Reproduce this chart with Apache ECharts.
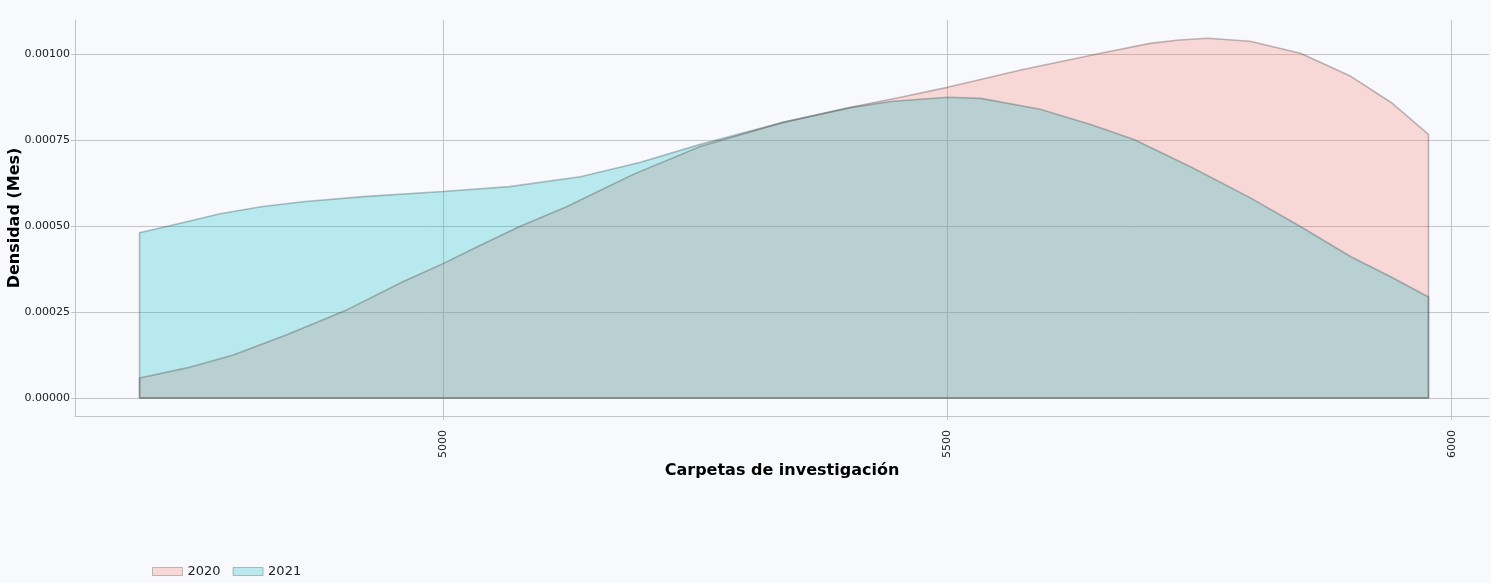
<!DOCTYPE html>
<html>
<head>
<meta charset="utf-8">
<script src="https://cdn.jsdelivr.net/npm/echarts@6/dist/echarts.min.js"></script>
<style>
  html, body { margin: 0; padding: 0; background: #f8f9fd; }
  #chart-container { width: 1491px; height: 583px; }
</style>
</head>
<body>
<div id="chart-container"></div>
<script>
// density estimates
var x2020 = [4699, 4746, 4792, 4845, 4905, 4960, 5000, 5038, 5076, 5123, 5188, 5255, 5337, 5404, 5450, 5500, 5575, 5652, 5701, 5730, 5758, 5800, 5850, 5900, 5940, 5977];
var d2020 = [0.0000583, 0.0000875, 0.000125, 0.000184, 0.000257, 0.000338, 0.000391, 0.000446, 0.000499, 0.000557, 0.000650, 0.000732, 0.000802, 0.000846, 0.000873, 0.000904, 0.000956, 0.001003, 0.001032, 0.001042, 0.001047, 0.001038, 0.001003, 0.000936, 0.000860, 0.000767];

var x2021 = [4699, 4729, 4779, 4821, 4861, 4921, 5000, 5066, 5136, 5195, 5255, 5337, 5404, 5444, 5500, 5533, 5592, 5642, 5685, 5741, 5800, 5850, 5900, 5940, 5977];
var d2021 = [0.000481, 0.000501, 0.000536, 0.000557, 0.000571, 0.000586, 0.000601, 0.000615, 0.000644, 0.000685, 0.000738, 0.000802, 0.000845, 0.000863, 0.000875, 0.000872, 0.000840, 0.000796, 0.000752, 0.000673, 0.000583, 0.000499, 0.000411, 0.000352, 0.000294];

var xTicks = [5000, 5500, 6000];
var yTicks = [0, 0.00025, 0.0005, 0.00075, 0.001];

function polygon(xs, ds) {
  var pts = [[xs[0], 0]];
  for (var i = 0; i < xs.length; i++) pts.push([xs[i], ds[i]]);
  pts.push([xs[xs.length - 1], 0]);
  pts.push([xs[0], 0]);
  return pts;
}

var dom = document.getElementById('chart-container');
var myChart = echarts.init(dom, null, { renderer: 'canvas' });

var font = 'DejaVu Sans, Verdana, sans-serif';

var option = {
  backgroundColor: '#f8f9fd',
  animation: false,
  textStyle: { fontFamily: font },
  grid: { left: 75, right: 2, top: 20, bottom: 167, containLabel: false, outerBoundsMode: 'none' },
  legend: {
    left: 147,
    top: 560,
    itemWidth: 30,
    itemHeight: 8,
    itemGap: 12,
    icon: 'rect',
    textStyle: { fontFamily: font, fontSize: 13, color: '#222' },
    data: [
      { name: '2020', itemStyle: { color: 'rgba(248,118,109,0.26)', borderColor: 'rgba(60,60,60,0.3)', borderWidth: 1 } },
      { name: '2021', itemStyle: { color: 'rgba(0,191,196,0.26)', borderColor: 'rgba(60,60,60,0.3)', borderWidth: 1 } }
    ]
  },
  xAxis: {
    type: 'value',
    min: 4635,
    max: 6037,
    name: 'Carpetas de investigación',
    nameLocation: 'middle',
    nameGap: 47,
    nameMoveOverlap: false,
    nameTextStyle: { fontFamily: font, fontSize: 16, fontWeight: 'bold', color: '#000' },
    axisLine: { show: true, onZero: false, lineStyle: { color: '#c4c4c4' } },
    axisTick: { show: true, length: 4, customValues: xTicks, lineStyle: { color: '#c4c4c4' } },
    axisLabel: {
      customValues: xTicks, rotate: 90, fontSize: 11, color: '#222', margin: 14, fontFamily: font,
      formatter: function (v) { return String(v); }
    },
    splitLine: { show: true, lineStyle: { color: '#c4c4c4', width: 1 } }
  },
  yAxis: {
    type: 'value',
    min: -0.0000525,
    max: 0.0011,
    name: 'Densidad (Mes)',
    nameLocation: 'middle',
    nameGap: 52,
    nameMoveOverlap: false,
    nameTextStyle: { fontFamily: font, fontSize: 16, fontWeight: 'bold', color: '#000' },
    axisLine: { show: true, lineStyle: { color: '#c4c4c4' } },
    axisTick: { show: true, length: 4, customValues: yTicks, lineStyle: { color: '#c4c4c4' } },
    axisLabel: {
      customValues: yTicks, fontSize: 11, color: '#222', margin: 5, fontFamily: font,
      formatter: function (v) { return v.toFixed(5); }
    },
    splitLine: { show: true, lineStyle: { color: '#c4c4c4', width: 1 } }
  },
  series: [
    {
      name: '2020',
      type: 'line',
      data: polygon(x2020, d2020),
      showSymbol: false,
      smooth: false,
      itemStyle: { color: 'rgba(248,118,109,0.26)' },
      lineStyle: { color: 'rgba(60,60,60,0.33)', width: 1.6 },
      areaStyle: { color: 'rgba(248,118,109,0.26)', opacity: 1, origin: 0 }
    },
    {
      name: '2021',
      type: 'line',
      data: polygon(x2021, d2021),
      showSymbol: false,
      smooth: false,
      itemStyle: { color: 'rgba(0,191,196,0.26)' },
      lineStyle: { color: 'rgba(60,60,60,0.33)', width: 1.6 },
      areaStyle: { color: 'rgba(0,191,196,0.26)', opacity: 1, origin: 0 }
    }
  ]
};

myChart.setOption(option);
window.addEventListener('resize', myChart.resize);
</script>
</body>
</html>
